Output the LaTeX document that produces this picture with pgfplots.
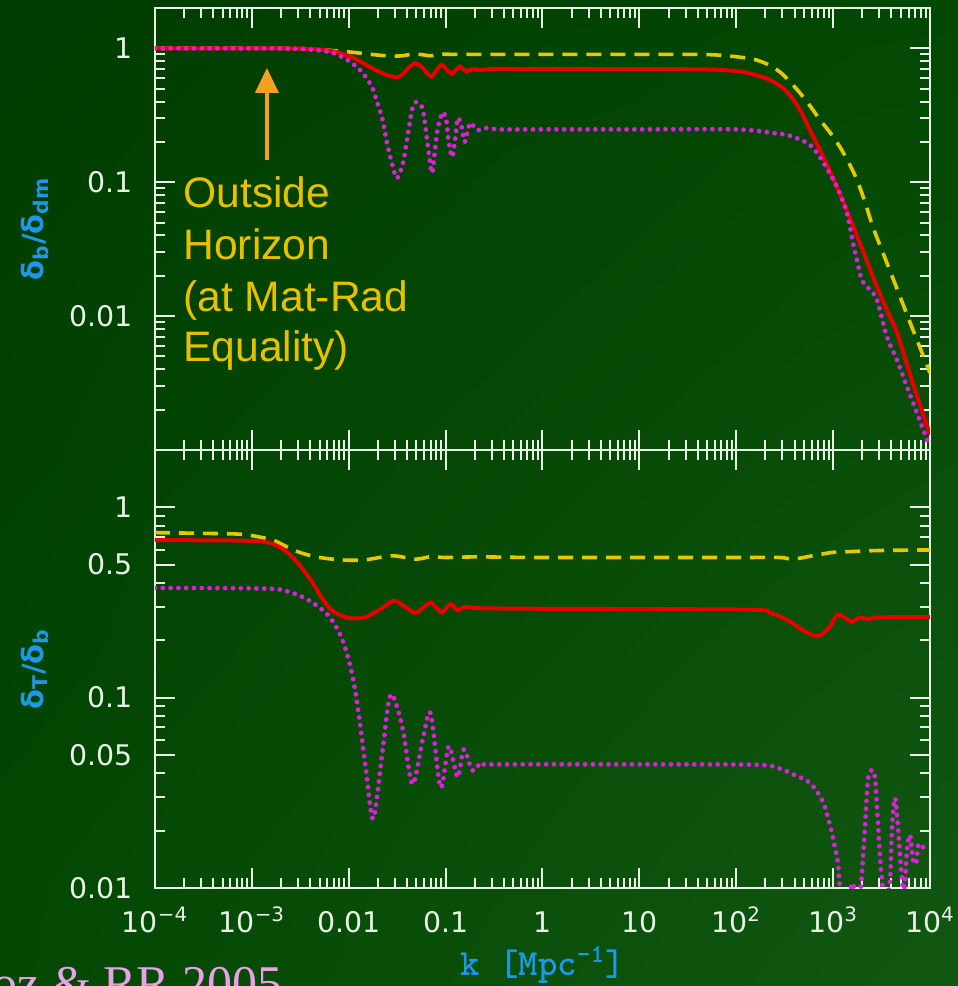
\documentclass[border=0pt]{standalone}
\usepackage{fontspec}
\usepackage{pgfplots}
\pgfplotsset{compat=1.18}
\usetikzlibrary{arrows.meta,shadings}
\setmainfont{DejaVu Sans}
\newfontfamily\annfont{Liberation Sans}
\newfontfamily\labfont{DejaVu Sans}
\newfontfamily\reffont{Liberation Serif}
\definecolor{bgA}{RGB}{0,60,0}
\definecolor{bgB}{RGB}{2,72,2}
\definecolor{bgC}{RGB}{18,88,18}
\definecolor{axiscol}{RGB}{232,242,232}
\definecolor{redc}{RGB}{235,0,0}
\definecolor{yelc}{RGB}{230,200,0}
\definecolor{magc}{RGB}{222,30,222}
\definecolor{labblue}{RGB}{30,150,235}
\definecolor{anncol}{RGB}{232,192,0}
\definecolor{arrcol}{RGB}{245,160,30}
\definecolor{refpink}{RGB}{235,160,235}
\tikzset{
  yelline/.style={draw=yelc, line width=1.8pt, dash pattern=on 7.5pt off 4.5pt},
  redline/.style={draw=redc, line width=2pt},
  magline/.style={draw=magc, line width=2.4pt, line cap=round, dash pattern=on 0pt off 3.9pt},
}
\begin{document}
\begin{tikzpicture}
\shade[upper left=bgA, upper right=bgB, lower left=bgB, lower right=bgC] (0pt,0pt) rectangle (479pt,493pt);
% ---------------- top panel ----------------
\begin{axis}[scale only axis, width=387.5pt, height=221pt, anchor=south west, at={(77.5pt,268pt)},
    xmode=log, ymode=log, xmin=1e-4, xmax=1e4, ymin=1e-3, ymax=2,
    axis line style={draw=axiscol, line width=1.2pt},
    tick style={draw=axiscol, line width=1pt},
    major tick length=10pt, minor tick length=5pt,
    tick align=inside,
    xtick={1e-4,1e-3,1e-2,1e-1,1,10,100,1000,10000},
    minor xtick={2e-4,3e-4,4e-4,5e-4,6e-4,7e-4,8e-4,9e-4,
      2e-3,3e-3,4e-3,5e-3,6e-3,7e-3,8e-3,9e-3,
      0.02,0.03,0.04,0.05,0.06,0.07,0.08,0.09,
      0.2,0.3,0.4,0.5,0.6,0.7,0.8,0.9,
      2,3,4,5,6,7,8,9,20,30,40,50,60,70,80,90,
      200,300,400,500,600,700,800,900,2000,3000,4000,5000,6000,7000,8000,9000},
    ytick={0.01,0.1,1}, yticklabels={0.01,0.1,1},
    minor ytick={0.002,0.003,0.004,0.005,0.006,0.007,0.008,0.009,
      0.02,0.03,0.04,0.05,0.06,0.07,0.08,0.09,0.2,0.3,0.4,0.5,0.6,0.7,0.8,0.9},
    xticklabel=\empty,
    tick label style={font=\fontsize{14.2}{14.2}\selectfont, text=axiscol},
    yticklabel style={anchor=east, inner sep=0pt, xshift=-11pt},
    ylabel={δ\textsubscript{b}/δ\textsubscript{dm}},
    ylabel style={at={(axis description cs:-0.155,0.5)}, anchor=center,
      font=\labfont\bfseries\fontsize{14.5}{14.5}\selectfont, text=labblue}]
\addplot[yelline, smooth] coordinates {(1e-4,1) (1e-3,1) (3e-3,0.995) (5e-3,0.98) (7e-3,0.96) (0.01,0.94) (0.015,0.91) (0.02,0.89) (0.028,0.875) (0.036,0.88) (0.045,0.905) (0.055,0.9) (0.068,0.88) (0.08,0.89) (0.095,0.905) (0.12,0.9) (0.2,0.9) (1,0.9) (10,0.9) (42,0.9) (80,0.88) (149,0.83) (210,0.76) (283,0.665) (360,0.56) (455,0.464) (580,0.37) (733,0.292) (950,0.23) (1178,0.183) (1450,0.14) (1763,0.104) (2150,0.07) (2578,0.0462) (3597,0.0249) (5256,0.0123) (6667,0.0079) (8300,0.0053) (10000,0.00376)};
\addplot[redline, smooth] coordinates {(1e-4,1) (1e-3,1) (3e-3,0.995) (5e-3,0.98) (7.8e-3,0.93) (0.0111,0.85) (0.014,0.776) (0.018,0.70) (0.021,0.665) (0.025,0.63) (0.0313,0.607) (0.036,0.64) (0.042,0.72) (0.0483,0.773) (0.056,0.73) (0.064,0.655) (0.0718,0.614) (0.08,0.68) (0.0911,0.75) (0.103,0.69) (0.1156,0.643) (0.128,0.69) (0.1408,0.73) (0.152,0.70) (0.165,0.668) (0.18,0.69) (0.201,0.697) (0.226,0.685) (0.3,0.70) (1,0.70) (10,0.70) (50,0.695) (90,0.68) (129,0.657) (223,0.58) (334,0.474) (455,0.346) (577,0.245) (786,0.156) (1096,0.092) (1763,0.040) (2838,0.0165) (3865,0.0099) (4565,0.0075) (6667,0.00316) (10000,0.0013)};
\addplot[magline, smooth] coordinates {(1e-4,1) (1e-3,1) (2e-3,0.998) (3.15e-3,0.99) (5e-3,0.965) (7e-3,0.92) (9.6e-3,0.82) (0.0117,0.74) (0.014,0.653) (0.0174,0.514) (0.0196,0.397) (0.022,0.307) (0.0236,0.237) (0.0254,0.183) (0.0279,0.139) (0.0315,0.107) (0.0363,0.139) (0.0399,0.206) (0.045,0.346) (0.0494,0.397) (0.057,0.365) (0.0612,0.277) (0.0658,0.183) (0.0723,0.117) (0.0777,0.174) (0.0834,0.258) (0.094,0.334) (0.103,0.277) (0.106,0.217) (0.1164,0.154) (0.125,0.206) (0.134,0.302) (0.1476,0.254) (0.158,0.20) (0.179,0.277) (0.211,0.245) (0.267,0.254) (0.35,0.248) (1,0.248) (10,0.248) (100,0.248) (240,0.233) (359,0.222) (577,0.19) (786,0.1416) (1096,0.092) (1390,0.0589) (1603,0.0352) (1763,0.0262) (1985,0.0186) (2402,0.0157) (2838,0.0132) (3597,0.0070) (4565,0.0047) (5794,0.00296) (7345,0.00189) (9310,0.00119) (10000,0.00105)};
\draw[draw=arrcol, line width=2pt, -{Triangle[width=11.5pt,length=12.5pt]}] (axis cs:1.43e-3,0.1466) -- (axis cs:1.43e-3,0.713);
\end{axis}
% ---------------- bottom panel ----------------
\begin{axis}[scale only axis, width=387.5pt, height=219pt, anchor=south west, at={(77.5pt,49pt)},
    xmode=log, ymode=log, xmin=1e-4, xmax=1e4, ymin=0.01, ymax=2,
    axis line style={draw=axiscol, line width=1.2pt},
    tick style={draw=axiscol, line width=1pt},
    major tick length=10pt, minor tick length=5pt,
    tick align=inside,
    xtick={1e-4,1e-3,1e-2,1e-1,1,10,100,1000,10000},
    minor xtick={2e-4,3e-4,4e-4,5e-4,6e-4,7e-4,8e-4,9e-4,
      2e-3,3e-3,4e-3,5e-3,6e-3,7e-3,8e-3,9e-3,
      0.02,0.03,0.04,0.05,0.06,0.07,0.08,0.09,
      0.2,0.3,0.4,0.5,0.6,0.7,0.8,0.9,
      2,3,4,5,6,7,8,9,20,30,40,50,60,70,80,90,
      200,300,400,500,600,700,800,900,2000,3000,4000,5000,6000,7000,8000,9000},
    ytick={0.01,0.05,0.1,0.5,1}, yticklabels={0.01,0.05,0.1,0.5,1},
    minor ytick={0.02,0.03,0.04,0.06,0.07,0.08,0.09,0.2,0.3,0.4,0.6,0.7,0.8,0.9},
    xticklabels={10\textsuperscript{−4},10\textsuperscript{−3},0.01,0.1,1,10,10\textsuperscript{2},10\textsuperscript{3},10\textsuperscript{4}},
    tick label style={font=\fontsize{14.2}{14.2}\selectfont, text=axiscol},
    yticklabel style={anchor=east, inner sep=0pt, xshift=-11pt},
    xticklabel style={anchor=base, inner sep=0pt, yshift=-22pt},
    ylabel={δ\textsubscript{T}/δ\textsubscript{b}},
    ylabel style={at={(axis description cs:-0.155,0.5)}, anchor=center,
      font=\labfont\bfseries\fontsize{14.5}{14.5}\selectfont, text=labblue},
    xlabel={k [Mpc\textsuperscript{-1}]},
    xlabel style={at={(axis description cs:0.5,0)}, anchor=center, yshift=-38.5pt,
      font=\ttfamily\bfseries\fontsize{18.5}{18.5}\selectfont, text=labblue}]
\addplot[yelline, smooth] coordinates {(1e-4,0.736) (6.4e-4,0.725) (1e-3,0.71) (1.65e-3,0.672) (2.3e-3,0.62) (3.1e-3,0.58) (4.5e-3,0.55) (6.8e-3,0.534) (0.01,0.527) (0.015,0.53) (0.0282,0.556) (0.049,0.534) (0.07,0.55) (0.1,0.545) (0.22,0.549) (1,0.545) (100,0.545) (282,0.545) (357,0.534) (450,0.54) (622,0.557) (1000,0.58) (1500,0.585) (3000,0.593) (10000,0.597)};
\addplot[redline, smooth] coordinates {(1e-4,0.672) (1e-3,0.666) (1.78e-3,0.631) (2.65e-3,0.545) (3.93e-3,0.424) (5.38e-3,0.33) (6.82e-3,0.285) (0.01,0.262) (0.015,0.265) (0.022,0.295) (0.0294,0.323) (0.038,0.30) (0.049,0.279) (0.060,0.30) (0.070,0.316) (0.081,0.295) (0.0923,0.281) (0.1125,0.31) (0.133,0.288) (0.16,0.30) (0.22,0.295) (1,0.293) (128,0.29) (222,0.279) (330,0.257) (490,0.226) (700,0.21) (925,0.236) (1127,0.273) (1545,0.251) (1884,0.264) (2290,0.258) (3000,0.264) (10000,0.265)};
\addplot[magline, smooth] coordinates {(1e-4,0.377) (1.4e-3,0.374) (2.44e-3,0.359) (3.93e-3,0.323) (6.3e-3,0.267) (8.65e-3,0.20) (0.0109,0.131) (0.0128,0.0794) (0.015,0.0424) (0.0179,0.0231) (0.0223,0.0523) (0.0271,0.104) (0.0358,0.07) (0.0454,0.0351) (0.058,0.06) (0.070,0.0828) (0.0887,0.0337) (0.108,0.0556) (0.133,0.0382) (0.154,0.0534) (0.188,0.0415) (0.22,0.0442) (0.3,0.0446) (10,0.0446) (162,0.0444) (282,0.0424) (359,0.0402) (577,0.0356) (786,0.0283) (929,0.0214) (1045,0.0164) (1122,0.0135) (1178,0.0101) (1300,0.0075) (1450,0.0092) (1603,0.0106) (1750,0.0085) (1900,0.0095) (1985,0.012) (2133,0.0209) (2291,0.0369) (2518,0.0417) (2704,0.0383) (2838,0.0266) (3048,0.0146) (3199,0.011) (3450,0.008) (3865,0.011) (4055,0.0209) (4355,0.0297) (4677,0.0209) (5140,0.011) (5450,0.010) (5794,0.0158) (6223,0.019) (6683,0.014) (7200,0.0135) (7600,0.017) (8472,0.0164) (10000,0.0162)};
\end{axis}
% ---------------- annotation ----------------
\begin{scope}[every node/.style={anchor=base west, inner sep=0pt, text=anncol, font=\annfont\fontsize{21.3}{21.3}\selectfont}]
\node at (91.5pt,389pt) {Outside};
\node at (91.5pt,363pt) {Horizon};
\node at (91.5pt,337pt) {(at Mat-Rad};
\node at (91.5pt,312pt) {Equality)};
\end{scope}
\node[anchor=base east, inner sep=0pt, text=refpink, font=\reffont\fontsize{25}{25}\selectfont] at (141.5pt,-7.5pt) {Naoz \& RR 2005};
\pgfresetboundingbox
\useasboundingbox (0pt,0pt) rectangle (479pt,493pt);
\end{tikzpicture}
\end{document}
